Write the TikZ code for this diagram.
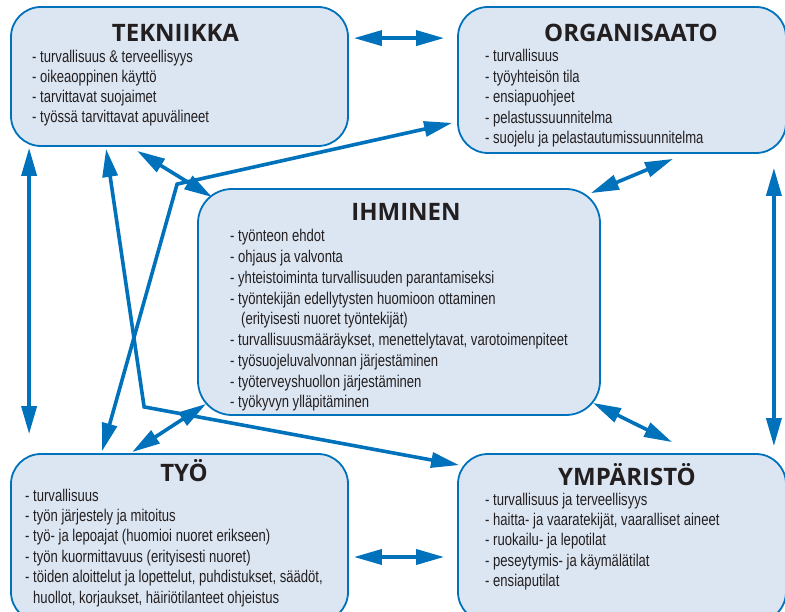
\documentclass[tikz,border=0pt]{standalone}
\usepackage{fontspec}
\setmainfont{Liberation Sans}
\newfontfamily\itemfont[FakeStretch=0.77]{Liberation Sans}
\newfontfamily\titlefont{Open Sans}
\usetikzlibrary{arrows.meta,calc}
\definecolor{boxfill}{RGB}{220,230,242}
\definecolor{linkblue}{RGB}{0,114,188}
\definecolor{txt}{RGB}{35,31,32}
\tikzset{
 box/.style={draw=linkblue, fill=boxfill, line width=1.8pt, rounded corners=30pt, inner sep=0pt, rectangle},
 item/.style={anchor=base west, inner sep=0pt, text=txt, font=\itemfont\fontsize{17}{19}\selectfont},
 title/.style={anchor=base, inner sep=0pt, text=txt, font=\titlefont\bfseries\fontsize{24}{28}\selectfont},
 link/.style={draw=linkblue, line width=3.6pt, {Triangle[length=28pt,width=15pt]}-{Triangle[length=28pt,width=15pt]}}
}
\begin{document}
\begin{tikzpicture}[x=1pt,y=-1pt]
\useasboundingbox (0,0) rectangle (785,612);
\clip (0,0) rectangle (785,612);
% boxes
\node[box, minimum width=337pt, minimum height=139pt] (tek) at (179.5,76.5) {};
\node[box, minimum width=328pt, minimum height=146pt] (org) at (622,80) {};
\node[box, minimum width=402pt, minimum height=226pt, rounded corners=34pt] (ihm) at (399,302) {};
\node[box, minimum width=337pt, minimum height=168pt] (tyo) at (179.5,538) {};
\node[box, minimum width=328pt, minimum height=168pt] (ymp) at (622,538) {};
% titles
\node[title] (tekT) at (175.5,42) {TEKNIIKKA};
\node[title] (orgT) at (631,42) {ORGANISAATO};
\node[title] (ihmT) at (406,221) {IHMINEN};
\node[title] (tyoT) at (184,481) {TYÖ};
\node[title] (ympT) at (627,485) {YMPÄRISTÖ};
% items
\foreach \t [count=\i] in {{- turvallisuus \& terveellisyys},{- oikeaoppinen käyttö},{- tarvittavat suojaimet},{- työssä tarvittavat apuvälineet}}
  \node[item] (tk\i) at (32,{63+(\i-1)*20}) {\t};
\foreach \t [count=\i] in {{- turvallisuus},{- työyhteisön tila},{- ensiapuohjeet},{- pelastussuunnitelma},{- suojelu ja pelastautumissuunnitelma}}
  \node[item] (or\i) at (485,{62+(\i-1)*20.5}) {\t};
\foreach \t [count=\i] in {{- työnteon ehdot},{- ohjaus ja valvonta},{- yhteistoiminta turvallisuuden parantamiseksi},{- työntekijän edellytysten huomioon ottaminen},{\hspace*{11pt}(erityisesti nuoret työntekijät)},{- turvallisuusmääräykset, menettelytavat, varotoimenpiteet},{- työsuojeluvalvonnan järjestäminen},{- työterveyshuollon järjestäminen},{- työkyvyn ylläpitäminen}}
  \node[item] (ih\i) at (230,{242+(\i-1)*20.75}) {\t};
\foreach \t [count=\i] in {{- turvallisuus},{- työn järjestely ja mitoitus},{- työ- ja lepoajat (huomioi nuoret erikseen)},{- työn kuormittavuus (erityisesti nuoret)},{- töiden aloittelut ja lopettelut, puhdistukset, säädöt,},{\hspace*{8pt}huollot, korjaukset, häiriötilanteet ohjeistus}}
  \node[item] (ty\i) at (25,{501+(\i-1)*20.4}) {\t};
\foreach \t [count=\i] in {{- turvallisuus ja terveellisyys},{- haitta- ja vaaratekijät, vaaralliset aineet},{- ruokailu- ja lepotilat},{- peseytymis- ja käymälätilat},{- ensiaputilat}}
  \node[item] (ym\i) at (485,{505+(\i-1)*20.4}) {\t};
% connectors
\draw[link] ($(tek.north east)+(5,32)$) -- ($(org.north west)+(-13,32)$);
\draw[link] ($(tek.south west)+(19,1)$) -- ($(tyo.north west)+(19,-19)$);
\draw[link] ($(tek.south west)+(96,2)$) -- ($(ihm.south west)+(-53,-9)$) -- ($(ymp.north west)+(2,12)$);
\draw[link] ($(org.south west)+(-5,-31)$) -- ($(ihm.north west)+(-20,-4)$) -- ($(tyo.north west)+(92,-2)$);
\draw[link] ($(tek.south west)+(127,4)$) -- ($(ihm.north west)+(15,9)$);
\draw[link] ($(org.south)+(51,5)$) -- ($(ihm.north east)+(-10,5)$);
\draw[link] ($(org.south east)+(-13,14)$) -- ($(ymp.north east)+(-13,-7)$);
\draw[link] ($(ihm.south east)+(-8,-13)$) -- ($(ymp.north)+(50,-11)$);
\draw[link] ($(ihm.south west)+(9,-12)$) -- ($(tyo.north west)+(122,-1)$);
\draw[link] ($(tyo.east)+(5,19)$) -- ($(ymp.west)+(-13,19)$);
\end{tikzpicture}
\end{document}
